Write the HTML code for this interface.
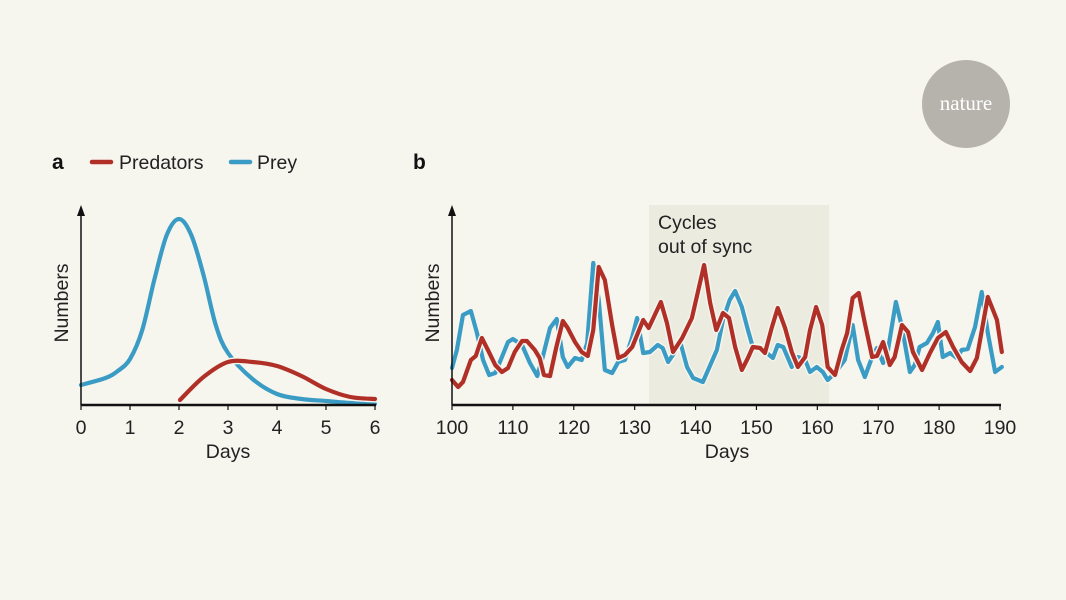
<!DOCTYPE html>
<html><head><meta charset="utf-8">
<style>
html,body{margin:0;padding:0;background:#f6f5ee;}
svg{display:block;font-family:"Liberation Sans",sans-serif;}
</style></head>
<body>
<svg id="chart" width="1066" height="600" viewBox="0 0 1066 600" xmlns="http://www.w3.org/2000/svg">
<rect width="1066" height="600" fill="#f6f5ee"/>
<g>
<circle cx="966" cy="104" r="44" fill="#b5b3ac"/>
<text x="966" y="110" text-anchor="middle" font-family="Liberation Serif,serif" font-size="21" fill="#fff">nature</text>
</g>
<text x="52" y="169" font-size="21" font-weight="bold" fill="#111">a</text>
<g>
<g><line x1="92" y1="162" x2="111" y2="162" stroke="#b03028" stroke-width="4.5" stroke-linecap="round"/><text x="119" y="169" font-size="19.5" fill="#222">Predators</text></g>
<g><line x1="231" y1="162" x2="250" y2="162" stroke="#3a9cc4" stroke-width="4.5" stroke-linecap="round"/><text x="257" y="169" font-size="19.5" fill="#222">Prey</text></g>
</g>
<text x="413" y="169" font-size="21" font-weight="bold" fill="#111">b</text>
<rect x="649" y="205" width="180" height="200" fill="#ecebe0"/>
<text x="658" y="229" font-size="19.5" fill="#222">Cycles</text>
<text x="658" y="253" font-size="19.5" fill="#222">out of sync</text>
<g id="pa"></g>
<g id="pb"></g>
</svg>
<script>
const aDays = [0,0.5,0.75,1,1.25,1.5,1.75,2,2.25,2.5,2.75,3,3.5,4,4.5,5,5.5,6];
const aPrey = [20,27,34,46,75,126,170,186,170,130,80,52,26,11,6,4,2,1];
const aPredDays = [2.02,2.5,3,3.5,4,4.5,5,5.5,6];
const aPred = [5,28,43,43,39,29,16,8,6];
const aTicks = [0,1,2,3,4,5,6];

const bPreyDays = [100,100.8,101.8,103.1,104.1,105.1,106.1,107.1,108.2,109.2,110.0,111.5,112.8,114.0,114.9,116.1,117.2,118.2,119.0,120.2,121.3,122.2,123.2,124.1,125.1,126.3,127.3,128.4,129.6,130.4,131.4,132.5,133.8,134.6,135.5,136.6,137.4,138.6,139.6,141.2,143.5,144.5,145.6,146.5,147.6,148.6,149.4,150.6,151.7,152.7,153.5,154.4,155.8,156.8,158.0,158.8,159.9,160.9,161.7,162.9,164.5,165.8,166.7,167.8,169.0,169.8,170.8,171.6,172.9,173.9,175.2,176.0,176.8,178.0,179.0,179.8,180.6,181.8,182.9,183.7,184.7,185.9,187.0,188.0,189.2,190.3];
const bPrey = [36,54,89,93,71,44,29,31,47,62,65,59,41,28,47,76,85,47,37,46,44,61,141,104,34,31,42,44,67,86,51,52,59,56,42,52,64,37,26,22,54,84,104,113,97,74,57,57,51,46,59,57,37,47,44,32,37,32,24,31,44,79,44,27,47,56,41,54,102,77,32,39,57,61,71,82,47,51,46,54,55,77,112,71,32,37];
const bPredDays = [100,101,101.8,103.1,103.9,104.9,105.9,107.1,108.2,109.2,110.3,111.5,112.3,113.6,114.4,115.1,116.1,117.1,118.2,119.0,120.2,121.3,122.3,123.2,124.1,125.1,126.3,127.3,128.4,129.6,131.4,132.3,134.3,135.3,136.3,137.8,139.4,141.4,142.4,143.4,144.5,145.5,146.5,147.6,148.6,149.4,150.6,151.4,152.5,153.5,154.7,155.8,156.8,158.0,158.8,159.8,160.8,161.7,162.9,164.0,164.9,165.8,166.8,167.8,169.0,169.8,170.8,171.9,172.7,173.9,174.9,175.7,177.2,178.5,179.8,181.1,182.3,183.7,185.1,186.2,188.0,189.5,190.3];
const bPred = [24,17,22,44,48,66,54,39,32,36,52,63,63,54,46,29,28,56,83,76,62,52,48,74,137,124,79,46,49,57,84,76,102,81,52,66,86,139,101,74,91,86,57,34,46,57,56,51,76,96,76,52,37,47,74,97,79,37,29,54,71,106,111,81,47,48,62,39,47,79,72,52,34,51,66,72,57,42,33,46,107,84,52];
const bTicks = [100,110,120,130,140,150,160,170,180,190];

const NS="http://www.w3.org/2000/svg";
function mk(tag,attrs,parent){const e=document.createElementNS(NS,tag);for(const k in attrs)e.setAttribute(k,attrs[k]);parent.appendChild(e);return e;}
function smooth(pts){let d="M"+pts[0][0]+","+pts[0][1];for(let i=0;i<pts.length-1;i++){const p0=pts[Math.max(0,i-1)],p1=pts[i],p2=pts[i+1],p3=pts[Math.min(pts.length-1,i+2)];const c1=[p1[0]+(p2[0]-p0[0])/6,p1[1]+(p2[1]-p0[1])/6],c2=[p2[0]-(p3[0]-p1[0])/6,p2[1]-(p3[1]-p1[1])/6];d+=" C"+c1[0]+","+c1[1]+" "+c2[0]+","+c2[1]+" "+p2[0]+","+p2[1];}return d;}
function poly(pts){return "M"+pts.map(p=>p[0]+","+p[1]).join(" L");}

const ax=d=>81+d*(375-81)/6, ay=v=>405-v;
const pa=document.getElementById('pa');
function series(g,d,color,name){
  const h=mk('path',{d:d,fill:'none',stroke:'#f6f5ee','stroke-width':7,'stroke-linejoin':'round','stroke-linecap':'round'},g);
  
  
  const p=mk('path',{d:d,fill:'none',stroke:color,'stroke-width':4.2,'stroke-linejoin':'round','stroke-linecap':'round'},g);
  
  
}
series(pa,smooth(aDays.map((d,i)=>[ax(d),ay(aPrey[i])])),'#3a9cc4','prey-line-a');
series(pa,smooth(aPredDays.map((d,i)=>[ax(d),ay(aPred[i])])),'#b03028','predators-line-a');
function axes(g,x0,x1,yb,ticks,xf,prefix,daysX){
  const ya=mk('line',{x1:x0,y1:yb,x2:x0,y2:213,stroke:'#111','stroke-width':1.5},g);
  
  
  const ar=mk('path',{d:`M${x0-4},${216} L${x0},${205} L${x0+4},${216} Z`,fill:'#111'},g);
  
  
  const xa=mk('line',{x1:x0,y1:yb,x2:x1,y2:yb,stroke:'#111','stroke-width':2.5},g);
  
  
  ticks.forEach(t=>{
    const tl=mk('line',{x1:xf(t),y1:yb,x2:xf(t),y2:yb+5,stroke:'#111','stroke-width':1.2},g);
    
    
    const tx=mk('text',{x:xf(t),y:yb+29,'text-anchor':'middle','font-size':19.5,fill:'#222'},g);
    tx.textContent=t;
    
    
  });
  const dt=mk('text',{x:daysX,y:yb+53,'text-anchor':'middle','font-size':19.5,fill:'#222'},g);
  dt.textContent='Days';
  
  
  const nt=mk('text',{x:0,y:0,'text-anchor':'middle','font-size':19.5,fill:'#222',transform:`translate(${x0-13},303) rotate(-90)`},g);
  nt.textContent='Numbers';
  
  
}
axes(pa,81,376,405,aTicks,ax,'panel-a',228);

const bx=d=>452+(d-100)*(1000-452)/90, by=v=>404-v;
const pb=document.getElementById('pb');
series(pb,poly(bPreyDays.map((d,i)=>[bx(d),by(bPrey[i])])),'#3a9cc4','prey-line-b');
series(pb,poly(bPredDays.map((d,i)=>[bx(d),by(bPred[i])])),'#b03028','predators-line-b');
axes(pb,452,1001,405,bTicks,bx,'panel-b',727);
</script>
</body></html>
